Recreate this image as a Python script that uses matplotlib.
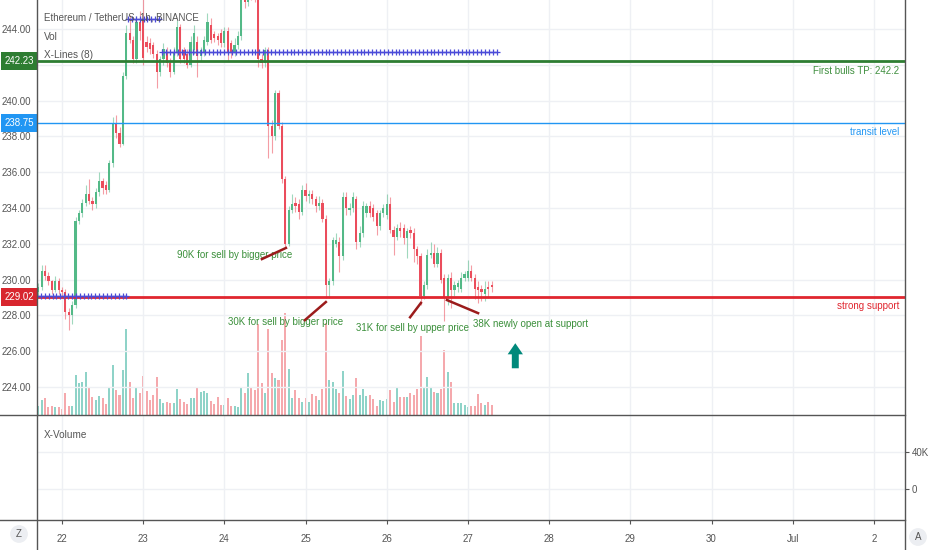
import numpy as np
import matplotlib
matplotlib.use("Agg")
import matplotlib.pyplot as plt
import matplotlib.transforms as mtransforms
from matplotlib.lines import Line2D

plt.rcParams['font.family'] = ['Liberation Sans Narrow', 'Liberation Sans', 'DejaVu Sans']

# ETH/USDT 1h candles, first candle = 21 Jun 17:00 (index 0), 22 Jun 00:00 = index 7
opens = [229.3, 229.6, 230.5, 230.2, 229.9, 229.4, 229.9, 229.4, 229.3, 228.2,
         228.0, 228.6, 233.3, 233.7, 234.3, 234.8, 234.4, 234.2, 234.9, 235.5,
         235.3, 235.0, 236.5, 238.7, 238.2, 237.6, 241.4, 243.8, 243.4, 242.3,
         244.4, 244.5, 243.3, 243.2, 243.1, 242.6, 241.6, 242.3, 242.7, 242.1,
         241.6, 242.7, 244.1, 242.8, 242.6, 242.0, 242.8, 243.3, 242.5, 242.7,
         243.3, 244.2, 243.7, 243.6, 243.8, 243.2, 243.9, 243.2, 242.7, 243.1,
         243.6, 246.0, 245.5, 246.3, 246.0, 245.8, 242.3, 242.1, 242.8, 238.6,
         238.0, 240.4, 238.6, 235.6, 232.0, 233.9, 234.3, 234.2, 233.8, 235.0,
         234.7, 234.8, 234.5, 234.1, 234.3, 233.4, 229.7, 229.9, 232.0, 232.1,
         231.3, 234.6, 233.9, 234.0, 234.5, 232.1, 232.6, 233.7, 234.1, 234.0,
         233.7, 233.0, 233.7, 233.6, 234.2, 232.8, 232.4, 232.9, 232.9, 232.3,
         232.8, 232.6, 231.7, 231.3, 229.1, 229.7, 231.4, 231.5, 230.9, 231.5,
         230.1, 229.0, 230.1, 229.4, 229.6, 229.5, 230.1, 230.1, 230.5, 230.1,
         229.6, 229.5, 229.2, 229.6, 229.7]
highs = [229.8, 230.8, 230.8, 230.4, 230.0, 230.2, 230.1, 229.6, 229.5, 228.4,
         228.8, 233.5, 233.9, 234.5, 235.3, 235.6, 234.6, 235.1, 236.0, 235.7,
         235.5, 236.7, 239.1, 239.2, 238.5, 241.6, 244.2, 244.8, 243.6, 244.7,
         245.0, 245.9, 243.6, 243.5, 243.3, 242.8, 242.5, 243.2, 243.0, 242.4,
         243.0, 244.5, 244.3, 243.0, 242.9, 243.6, 244.2, 243.6, 243.0, 243.6,
         244.9, 244.6, 243.9, 243.8, 244.0, 244.1, 244.1, 243.4, 243.5, 243.9,
         246.2, 246.4, 246.6, 246.9, 246.5, 246.1, 242.6, 243.0, 243.0, 238.9,
         240.6, 240.6, 238.8, 235.8, 234.1, 234.8, 234.6, 234.5, 235.3, 235.4,
         235.0, 235.0, 234.7, 234.7, 234.5, 233.6, 230.1, 232.4, 232.6, 232.4,
         234.9, 234.9, 234.3, 234.9, 234.7, 233.0, 234.4, 234.3, 234.4, 234.2,
         233.9, 233.9, 234.2, 234.8, 234.6, 233.0, 233.1, 233.2, 233.1, 232.9,
         233.0, 232.9, 231.9, 231.5, 229.9, 231.7, 232.1, 232.0, 231.8, 231.7,
         230.3, 230.3, 230.4, 229.9, 230.0, 230.4, 230.5, 231.1, 230.8, 230.3,
         229.9, 229.7, 229.9, 229.9, 229.9]
lows = [229.1, 229.4, 230.0, 229.7, 229.2, 229.3, 229.2, 229.0, 227.8, 227.2,
        227.5, 228.4, 233.1, 233.5, 234.1, 234.2, 233.9, 234.0, 234.7, 234.8,
        234.8, 234.9, 236.3, 237.9, 237.4, 237.5, 241.2, 243.2, 242.1, 242.1,
        243.4, 242.0, 242.7, 242.6, 242.4, 240.7, 241.4, 242.0, 241.9, 241.3,
        241.5, 242.5, 242.1, 242.1, 241.8, 241.9, 242.6, 241.3, 242.2, 242.5,
        243.1, 243.2, 243.3, 243.1, 243.0, 243.0, 242.2, 242.4, 242.5, 242.9,
        243.4, 245.2, 245.3, 245.6, 245.5, 241.9, 241.8, 241.9, 236.8, 237.1,
        237.8, 238.4, 235.4, 231.8, 231.9, 233.7, 233.8, 233.4, 233.6, 234.4,
        234.3, 234.2, 233.8, 233.9, 233.2, 229.0, 229.0, 229.7, 231.8, 230.4,
        231.1, 233.6, 233.6, 233.8, 231.7, 231.8, 232.4, 233.5, 233.5, 233.3,
        232.5, 232.8, 233.5, 233.4, 232.6, 231.4, 232.2, 232.4, 232.0, 231.2,
        232.3, 231.0, 230.9, 228.6, 228.9, 229.5, 231.2, 230.7, 230.7, 229.8,
        227.7, 228.6, 228.4, 229.1, 229.3, 229.3, 229.9, 229.9, 229.9, 228.9,
        228.7, 228.8, 228.8, 229.0, 229.3]
closes = [229.6, 230.5, 230.2, 229.9, 229.4, 229.9, 229.4, 229.3, 228.2, 228.0,
          228.6, 233.3, 233.7, 234.3, 234.8, 234.4, 234.2, 234.9, 235.5, 235.1,
          235.0, 236.5, 238.7, 238.2, 237.6, 241.4, 243.8, 243.4, 242.3, 244.4,
          243.9, 242.4, 243.0, 242.9, 242.6, 241.6, 242.3, 242.9, 242.1, 241.6,
          242.7, 244.1, 242.3, 242.3, 242.0, 243.3, 243.8, 242.5, 242.8, 243.4,
          244.4, 243.4, 243.5, 243.4, 243.2, 243.9, 242.7, 242.7, 243.1, 243.6,
          245.9, 245.5, 246.3, 245.9, 245.8, 242.3, 242.1, 242.8, 238.6, 238.0,
          240.4, 238.6, 235.6, 232.0, 233.9, 234.2, 234.1, 233.8, 235.0, 234.7,
          234.8, 234.5, 234.1, 234.3, 233.4, 229.7, 229.9, 232.2, 232.2, 231.3,
          234.6, 234.0, 234.0, 234.6, 232.1, 232.6, 234.1, 234.1, 233.7, 233.5,
          233.0, 233.7, 234.0, 234.2, 232.8, 232.4, 232.9, 232.7, 232.3, 232.7,
          232.6, 231.7, 231.3, 229.1, 229.7, 231.4, 231.5, 230.9, 231.5, 230.0,
          229.0, 230.1, 229.4, 229.7, 229.8, 230.1, 230.3, 230.5, 230.1, 229.5,
          229.4, 229.3, 229.5, 229.5, 229.6]
# volume, relative units
vol = [9, 15, 17, 8, 9, 8, 8, 6, 22, 9,
       9, 40, 32, 33, 43, 27, 18, 15, 19, 17,
       11, 28, 50, 25, 20, 45, 86, 33, 17, 27,
       22, 39, 24, 15, 20, 38, 16, 12, 13, 12,
       12, 26, 16, 13, 11, 17, 17, 28, 23, 24,
       22, 14, 11, 18, 10, 10, 17, 9, 9, 8,
       28, 22, 42, 27, 25, 91, 32, 22, 86, 42,
       37, 35, 75, 102, 46, 17, 25, 17, 13, 17,
       13, 21, 19, 15, 26, 92, 35, 33, 26, 22,
       44, 19, 16, 20, 37, 20, 26, 19, 20, 16,
       9, 15, 14, 16, 25, 13, 28, 18, 18, 18,
       22, 20, 26, 79, 28, 38, 28, 23, 22, 26,
       65, 43, 33, 12, 12, 12, 10, 8, 9, 9,
       21, 12, 10, 13, 10]

day_labels = ['22', '23', '24', '25', '26', '27', '28', '29', '30', 'Jul', '2']
price_ticks = [224, 226, 228, 230, 232, 234, 236, 238, 240, 242, 244]

tp_level = 242.23
transit_level = 238.75
support_level = 229.02
# X-Lines: (start index, end index, price)
xlines = [(-0.4, 26.2, 229.1), (26.5, 36.6, 244.56), (36.6, 135.6, 242.72)]

GREEN = '#53b987'
RED = '#eb4d5c'
VGREEN = '#8fd3c8'
VRED = '#f5a9ad'
GRIDC = '#eef0f4'
TXT = '#555555'

W, H = 932, 550
fig = plt.figure(figsize=(W / 100, H / 100), dpi=100)
L, R = 37, 905
ax = fig.add_axes([L / W, 1 - 415 / H, (R - L) / W, 415 / H])
axv = ax.twinx()
axb = fig.add_axes([L / W, 1 - 520 / H, (R - L) / W, 105 / H], sharex=ax)

idx = np.arange(len(closes))
o = np.array(opens); c = np.array(closes)
up = c >= o
ccol = np.where(up, GREEN, RED)

# volume overlay
ax.set_zorder(axv.get_zorder() + 1)
ax.patch.set_visible(False)
axv.bar(idx, vol, width=0.6, color=np.where(up, VGREEN, VRED), linewidth=0)
axv.set_ylim(0, 415)
axv.set_yticks([])
for s in axv.spines.values():
    s.set_visible(False)

# candles
ax.vlines(idx, lows, highs, colors=ccol, linewidth=0.8, alpha=0.55, zorder=3)
ax.bar(idx, np.maximum(np.abs(c - o), 0.06), bottom=np.minimum(o, c),
       width=0.65, color=ccol, linewidth=0, zorder=4)

day_pos = [7 + 24 * k for k in range(len(day_labels))]
ax.set_xlim(-0.39, 256.2)
ax.set_ylim(222.44, 245.62)
ax.set_xticks(day_pos)
ax.tick_params(axis='x', length=0, labelbottom=False)
ax.set_yticks(price_ticks)
ax.set_yticklabels(['' if p == 242 else '%.2f' % p for p in price_ticks])
ax.tick_params(axis='y', length=0, labelsize=7, labelcolor=TXT, pad=4)
ax.grid(True, color=GRIDC, linewidth=1, zorder=0)
for s in ax.spines.values():
    s.set_visible(False)

# levels
ax.axhline(tp_level, color='#2e7d32', linewidth=2, zorder=5)
ax.axhline(transit_level, color='#2196f3', linewidth=1, zorder=5)
ax.axhline(support_level, color='#e0262f', linewidth=2, zorder=5)
bt = mtransforms.blended_transform_factory(ax.transAxes, ax.transData)
for lev, col in [(tp_level, '#2e7d32'), (transit_level, '#2196f3'), (support_level, '#d8262e')]:
    ax.text(-0.003, lev, '%.2f' % lev, transform=bt, ha='right', va='center',
            color='white', fontsize=7, zorder=10, clip_on=False,
            bbox=dict(boxstyle='square,pad=0.4', fc=col, ec='none'))
ax.annotate('First bulls TP: 242.2', xy=(0.993, tp_level), xycoords=bt,
            xytext=(0, -4), textcoords='offset points', ha='right', va='top',
            color='#3f8f3f', fontsize=7)
ax.annotate('transit level', xy=(0.993, transit_level), xycoords=bt,
            xytext=(0, -3), textcoords='offset points', ha='right', va='top',
            color='#2196f3', fontsize=7)
ax.annotate('strong support', xy=(0.993, support_level), xycoords=bt,
            xytext=(0, -3), textcoords='offset points', ha='right', va='top',
            color='#e0262f', fontsize=7)

# X-Lines
for x0, x1, p in xlines:
    xs = np.arange(x0, x1, 1.15)
    ax.plot(xs, np.full_like(xs, p), color='#4b4bd8', linewidth=1,
            marker='+', markersize=4, markeredgewidth=0.9, zorder=6)

# notes
NOTE = '#3a8f3a'
LINEC = '#9b1b1b'
notes = [
    ('90K for sell by bigger price', 58.1, 231.37, (66.1, 231.15), (73.2, 231.77)),
    ('30K for sell by bigger price', 73.2, 227.63, (78.8, 227.74), (85.0, 228.75)),
    ('31K for sell by upper price', 110.5, 227.3, (109.9, 227.9), (113.1, 228.7)),
    ('38K newly open at support', 145.6, 227.5, (120.8, 228.86), (130.0, 228.13)),
]
for t, tx, ty, p0, p1 in notes:
    ax.text(tx, ty, t, ha='center', va='center', color=NOTE, fontsize=7, zorder=7)
    ax.plot([p0[0], p1[0]], [p0[1], p1[1]], color=LINEC, linewidth=1.8, zorder=7)

ax.annotate('', xy=(141, 226.45), xytext=(141, 225.05),
            arrowprops=dict(facecolor='#00897b', edgecolor='none', width=5,
                            headwidth=11, headlength=8, shrink=0))

ax.text(0.008, 0.957, 'Ethereum / TetherUS, 1h, BINANCE', transform=ax.transAxes,
        va='center', color=TXT, fontsize=7, zorder=8)
ax.text(0.008, 0.911, 'Vol', transform=ax.transAxes, va='center', color=TXT, fontsize=7.2)
ax.text(0.008, 0.867, 'X-Lines (8)', transform=ax.transAxes, va='center', color=TXT, fontsize=7.2)

# lower pane
axb.set_ylim(-34.4, 81)
axb.yaxis.tick_right()
axb.set_yticks([0, 40])
axb.set_yticklabels(['0', '40K'])
axb.tick_params(axis='y', direction='out', length=3, color=TXT, labelcolor=TXT,
                labelsize=7, pad=2)
axb.tick_params(axis='x', direction='out', length=3, color=TXT, labelcolor=TXT,
                labelsize=7, pad=7)
axb.set_xticks(day_pos)
axb.set_xticklabels(day_labels)
axb.grid(True, color=GRIDC, linewidth=1)
for s in axb.spines.values():
    s.set_visible(False)
axb.text(0.008, 0.81, 'X-Volume', transform=axb.transAxes, va='center', color=TXT, fontsize=7.2)

# pane frame lines
for yy in (415, 520):
    fig.add_artist(Line2D([0, R / W], [1 - yy / H, 1 - yy / H], color='#555555', linewidth=1))
for xx in (L, R):
    fig.add_artist(Line2D([xx / W, xx / W], [0, 1], color='#555555', linewidth=1))

fig.text(19 / W, 1 - 534 / H, 'Z', ha='center', va='center', color=TXT, fontsize=7,
         bbox=dict(boxstyle='circle,pad=0.4', fc='#eceef2', ec='none'))
fig.text(918 / W, 1 - 537 / H, 'A', ha='center', va='center', color=TXT, fontsize=7,
         bbox=dict(boxstyle='circle,pad=0.4', fc='#eceef2', ec='none'))

fig.savefig('out.png', dpi=100, facecolor='white')
